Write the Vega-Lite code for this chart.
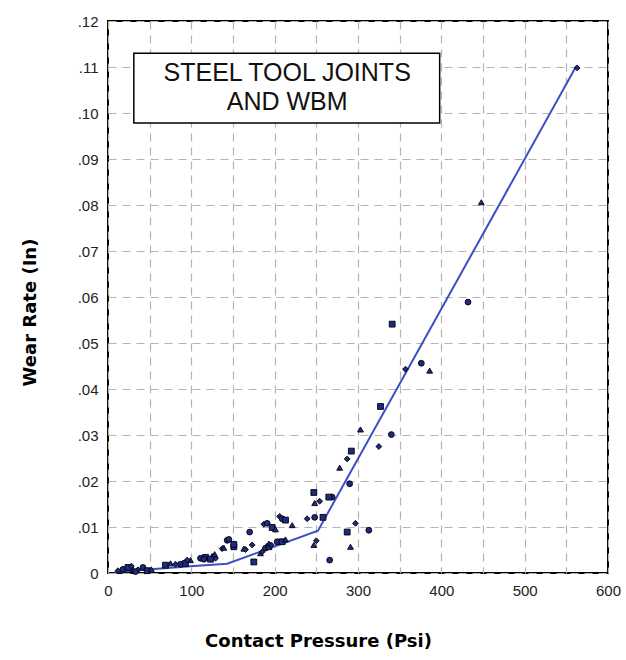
{
  "$schema": "https://vega.github.io/schema/vega-lite/v6.json",
  "width": 500,
  "height": 552,
  "autosize": "none",
  "padding": {"left": 108, "top": 21, "right": 18, "bottom": 87},
  "background": "white",
  "config": {
    "view": {"stroke": "#000000", "strokeWidth": 2},
    "font": "Liberation Sans"
  },
  "encoding": {
    "x": {
      "field": "p",
      "type": "quantitative",
      "scale": {"domain": [0, 600], "nice": false, "zero": false},
      "axis": {
        "title": "Contact Pressure (Psi)",
        "values": [0, 50, 100, 150, 200, 250, 300, 350, 400, 450, 500, 550, 600],
        "labelExpr": "datum.value % 100 === 0 ? datum.label : ''",
        "grid": true,
        "gridDash": [8, 6],
        "gridColor": "#b4b4b4",
        "gridOpacity": 1,
        "gridWidth": 1.2,
        "domain": false,
        "ticks": false,
        "labelFont": "Liberation Sans",
        "labelFontSize": 15,
        "labelColor": "#222222",
        "labelPadding": 10,
        "labelFlush": false,
        "labelOverlap": false,
        "titleFont": "DejaVu Sans",
        "titleFontWeight": "bold",
        "titleFontSize": 18,
        "titleColor": "#000000",
        "titleX": 210,
        "titleY": 68,
        "titleAlign": "center",
        "titleBaseline": "middle"
      }
    },
    "y": {
      "field": "w",
      "type": "quantitative",
      "scale": {"domain": [0, 0.12], "nice": false, "zero": false},
      "axis": {
        "title": "Wear Rate (In)",
        "values": [0, 0.01, 0.02, 0.03, 0.04, 0.05, 0.06, 0.07, 0.08, 0.09, 0.1, 0.11, 0.12],
        "labelExpr": "datum.value === 0 ? '0' : replace(format(datum.value, '.2f'), '0.', '.')",
        "grid": true,
        "gridDash": [8, 6],
        "gridColor": "#b4b4b4",
        "gridOpacity": 1,
        "gridWidth": 1.2,
        "domain": false,
        "ticks": false,
        "labelFont": "Liberation Sans",
        "labelFontSize": 15,
        "labelColor": "#222222",
        "labelPadding": 10,
        "labelFlush": false,
        "labelOverlap": false,
        "titleFont": "DejaVu Sans",
        "titleFontWeight": "bold",
        "titleFontSize": 18,
        "titleColor": "#000000",
        "titleX": -78,
        "titleY": 291,
        "titleAngle": -90,
        "titleAlign": "center",
        "titleBaseline": "middle"
      }
    }
  },
  "layer": [
    {
      "data": {"values": [{"p": 31, "w": 0.0978, "p2": 398, "w2": 0.113}]},
      "mark": {"type": "rect", "fill": "white", "stroke": "#000000", "strokeWidth": 1.5},
      "encoding": {"x2": {"field": "p2"}, "y2": {"field": "w2"}}
    },
    {
      "data": {"values": [{"p": 215, "w": 0.1087, "label": "STEEL TOOL JOINTS\nAND WBM"}]},
      "mark": {"type": "text", "font": "Liberation Sans", "fontSize": 25, "lineHeight": 29, "lineBreak": "\n", "color": "#111111", "align": "center", "baseline": "middle"},
      "encoding": {"text": {"field": "label"}}
    },
    {
      "data": {"values": [
        {"p": 8, "w": 0.0002},
        {"p": 103, "w": 0.0015},
        {"p": 143, "w": 0.002},
        {"p": 252, "w": 0.0092},
        {"p": 562, "w": 0.1102}
      ]},
      "mark": {"type": "line", "color": "#3d4fc4", "strokeWidth": 2}
    },
    {
      "data": {"values": [
        {"p": 12, "w": 0.0005, "s": "A"}, {"p": 18, "w": 0.0008, "s": "B"}, {"p": 24, "w": 0.0012, "s": "C"}, {"p": 30, "w": 0.0008, "s": "D"},
        {"p": 36, "w": 0.0007, "s": "A"}, {"p": 42, "w": 0.0012, "s": "B"}, {"p": 47, "w": 0.0005, "s": "C"}, {"p": 52, "w": 0.0008, "s": "D"},
        {"p": 28, "w": 0.0015, "s": "A"}, {"p": 33, "w": 0.0003, "s": "B"},
        {"p": 69, "w": 0.0017, "s": "C"}, {"p": 75, "w": 0.0021, "s": "D"}, {"p": 81, "w": 0.0019, "s": "A"}, {"p": 87, "w": 0.0019, "s": "B"},
        {"p": 93, "w": 0.0021, "s": "C"}, {"p": 99, "w": 0.0028, "s": "D"}, {"p": 95, "w": 0.0028, "s": "A"},
        {"p": 111, "w": 0.0032, "s": "B"}, {"p": 117, "w": 0.0034, "s": "C"}, {"p": 125, "w": 0.0037, "s": "D"}, {"p": 129, "w": 0.0032, "s": "A"},
        {"p": 115, "w": 0.003, "s": "B"}, {"p": 123, "w": 0.003, "s": "C"}, {"p": 128, "w": 0.0041, "s": "D"},
        {"p": 137, "w": 0.0053, "s": "A"}, {"p": 143, "w": 0.0071, "s": "B"}, {"p": 151, "w": 0.0057, "s": "C"}, {"p": 163, "w": 0.0053, "s": "D"},
        {"p": 173, "w": 0.0061, "s": "A"}, {"p": 145, "w": 0.0073, "s": "B"}, {"p": 151, "w": 0.0062, "s": "C"}, {"p": 139, "w": 0.0055, "s": "D"},
        {"p": 165, "w": 0.0051, "s": "A"}, {"p": 170, "w": 0.0089, "s": "B"}, {"p": 175, "w": 0.0024, "s": "C"},
        {"p": 183, "w": 0.0043, "s": "D"}, {"p": 185, "w": 0.0046, "s": "A"}, {"p": 189, "w": 0.0054, "s": "B"}, {"p": 193, "w": 0.0057, "s": "C"},
        {"p": 193, "w": 0.0064, "s": "D"}, {"p": 196, "w": 0.0061, "s": "A"}, {"p": 203, "w": 0.0068, "s": "B"}, {"p": 209, "w": 0.0068, "s": "C"},
        {"p": 213, "w": 0.0073, "s": "D"},
        {"p": 187, "w": 0.0106, "s": "A"}, {"p": 191, "w": 0.0108, "s": "B"}, {"p": 197, "w": 0.0099, "s": "C"}, {"p": 201, "w": 0.0095, "s": "D"},
        {"p": 206, "w": 0.0123, "s": "A"}, {"p": 209, "w": 0.0118, "s": "B"}, {"p": 213, "w": 0.0115, "s": "C"}, {"p": 221, "w": 0.0104, "s": "D"},
        {"p": 239, "w": 0.0118, "s": "A"}, {"p": 248, "w": 0.0121, "s": "B"}, {"p": 258, "w": 0.0121, "s": "C"},
        {"p": 247, "w": 0.0061, "s": "D"}, {"p": 250, "w": 0.007, "s": "A"}, {"p": 266, "w": 0.0028, "s": "B"},
        {"p": 247, "w": 0.0175, "s": "C"}, {"p": 248, "w": 0.0152, "s": "D"}, {"p": 254, "w": 0.0156, "s": "A"}, {"p": 269, "w": 0.0165, "s": "B"},
        {"p": 265, "w": 0.0165, "s": "C"},
        {"p": 278, "w": 0.0229, "s": "D"}, {"p": 287, "w": 0.0248, "s": "A"}, {"p": 290, "w": 0.0194, "s": "B"}, {"p": 287, "w": 0.0089, "s": "C"},
        {"p": 291, "w": 0.0057, "s": "D"}, {"p": 297, "w": 0.0108, "s": "A"}, {"p": 313, "w": 0.0093, "s": "B"},
        {"p": 292, "w": 0.0265, "s": "C"}, {"p": 303, "w": 0.0312, "s": "D"}, {"p": 325, "w": 0.0275, "s": "A"}, {"p": 327, "w": 0.0362, "s": "C"},
        {"p": 340, "w": 0.0301, "s": "B"}, {"p": 341, "w": 0.0541, "s": "C"}, {"p": 357, "w": 0.0443, "s": "A"}, {"p": 376, "w": 0.0456, "s": "B"},
        {"p": 386, "w": 0.044, "s": "D"}, {"p": 432, "w": 0.0589, "s": "B"}, {"p": 448, "w": 0.0806, "s": "D"}, {"p": 563, "w": 0.1098, "s": "A"}
      ]},
      "mark": {"type": "point", "filled": true, "color": "#1f2a86", "stroke": "#000000", "strokeWidth": 0.9, "size": 34, "opacity": 1},
      "encoding": {
        "shape": {"field": "s", "type": "nominal", "scale": {"domain": ["A", "B", "C", "D"], "range": ["diamond", "circle", "square", "triangle-up"]}, "legend": null}
      }
    }
  ]
}
